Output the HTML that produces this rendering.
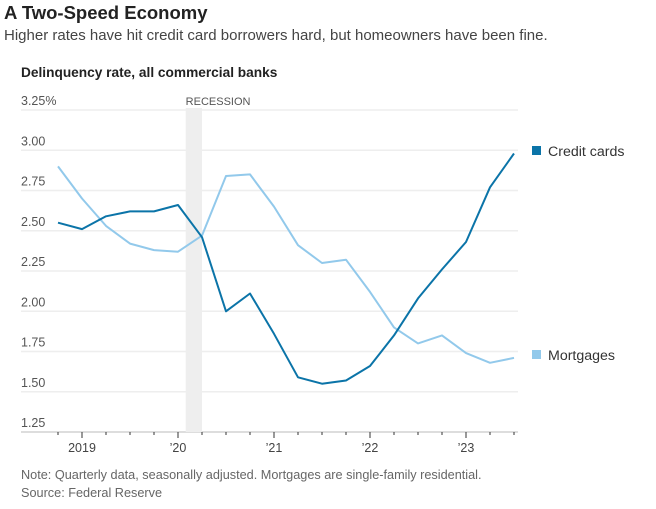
<!DOCTYPE html>
<html><head><meta charset="utf-8"><style>
body{margin:0;background:#fff;font-family:"Liberation Sans",sans-serif;}
svg{display:block}
</style></head><body>
<svg id="c" width="656" height="509">
<text x="4" y="19" font-size="18.5" font-weight="bold" fill="#222">A Two-Speed Economy</text>
<text x="4" y="40" font-size="15" fill="#444">Higher rates have hit credit card borrowers hard, but homeowners have been fine.</text>
<text x="21" y="77" font-size="13.7" font-weight="bold" fill="#222">Delinquency rate, all commercial banks</text>
<g id="grid"></g>
<rect id="rec" fill="#eeeeee"/>
<text id="recl" font-size="11" fill="#555">RECESSION</text>
<g id="axis"></g>
<g id="lines"></g>
<rect x="532" y="146" width="9" height="9" fill="#0b74a8"/>
<text x="548" y="156" font-size="14.2" fill="#333">Credit cards</text>
<rect x="532" y="350" width="9" height="9" fill="#92c9eb"/>
<text x="548" y="360" font-size="14.2" fill="#333">Mortgages</text>
<text x="21" y="479" font-size="12.7" fill="#666">Note: Quarterly data, seasonally adjusted. Mortgages are single-family residential.</text>
<text x="21" y="497" font-size="12.7" fill="#666">Source: Federal Reserve</text>
</svg>
<script>
const yTicks=[1.25,1.5,1.75,2.0,2.25,2.5,2.75,3.0,3.25];
const yLabels=["1.25","1.50","1.75","2.00","2.25","2.50","2.75","3.00","3.25%"];
const xYears=[2019,2020,2021,2022,2023];
const xLabels=["2019","\u201920","\u201921","\u201922","\u201923"];
const quarters=[2018.75,2019,2019.25,2019.5,2019.75,2020,2020.25,2020.5,2020.75,2021,2021.25,2021.5,2021.75,2022,2022.25,2022.5,2022.75,2023,2023.25,2023.5];
const creditCards=[2.55,2.51,2.59,2.62,2.62,2.66,2.46,2.00,2.11,1.86,1.59,1.55,1.57,1.66,1.85,2.08,2.26,2.43,2.77,2.98];
const mortgages=[2.90,2.70,2.53,2.42,2.38,2.37,2.47,2.84,2.85,2.65,2.41,2.30,2.32,2.12,1.90,1.80,1.85,1.74,1.68,1.71];
const recession=[2020.08,2020.25];
const NS="http://www.w3.org/2000/svg";
const X=t=>82+(t-2019)*96;
const Y=v=>432-(v-1.25)*161;
function mk(tag,attrs,parent){const e=document.createElementNS(NS,tag);for(const k in attrs)e.setAttribute(k,attrs[k]);parent.appendChild(e);return e;}
const grid=document.getElementById('grid'),axis=document.getElementById('axis'),lines=document.getElementById('lines');
yTicks.forEach((v,i)=>{
 const l=mk('line',{x1:21,x2:518,y1:Y(v),y2:Y(v),stroke:i===0?'#dddddd':'#eeeeee','stroke-width':i===0?2:1.5},grid);
 
 
 const t=mk('text',{x:21,y:Y(v)-5,'font-size':12.5,fill:'#555'},grid);
 t.textContent=yLabels[i];
 
 
});
const rec=document.getElementById('rec');
rec.setAttribute('x',X(recession[0]));rec.setAttribute('width',X(recession[1])-X(recession[0]));
rec.setAttribute('y',Y(3.25)-2);rec.setAttribute('height',Y(1.25)-Y(3.25)+2);
const rl=document.getElementById('recl');rl.setAttribute('x',X(recession[0]));rl.setAttribute('y',Y(3.25)-5);
for(let t=2018.75;t<=2023.51;t+=0.25){
 const major=Math.abs(t-Math.round(t))<0.01;
 const k=mk('line',{x1:X(t),x2:X(t),y1:Y(1.25),y2:Y(1.25)+(major?6:3),stroke:'#333','stroke-width':1},axis);
 
 
}
xYears.forEach((yr,i)=>{
 const t=mk('text',{x:X(yr),y:452,'font-size':12.5,fill:'#444','text-anchor':'middle'},axis);
 t.textContent=xLabels[i];
 
 
});
function line(vals,color,name){
 const d=vals.map((v,i)=>(i?'L':'M')+X(quarters[i]).toFixed(1)+','+Y(v).toFixed(1)).join('');
 const p=mk('path',{d:d,fill:'none',stroke:color,'stroke-width':2,'stroke-linejoin':'round'},lines);
 
 
}
line(mortgages,'#92c9eb','mortgages-line');
line(creditCards,'#0b74a8','credit-cards-line');
</script>
</body></html>
